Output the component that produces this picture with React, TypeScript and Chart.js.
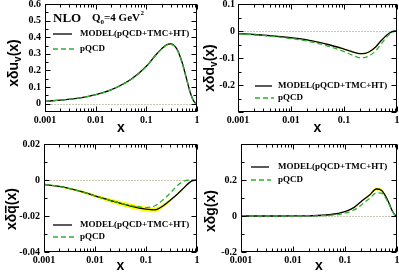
import React, { useEffect, useRef } from "react";
import { Chart, registerables } from "chart.js";
Chart.register(...registerables);

// ---------- data ----------
const xValues = [0.001, 0.002, 0.005, 0.01, 0.02, 0.05, 0.1, 0.15, 0.2, 0.25, 0.3, 0.4, 0.5, 0.6, 0.7, 0.8, 0.9, 0.95, 1];
const xTickLabels = [0.001, 0.01, 0.1, 1];
const legendLabels = ["MODEL(pQCD+TMC+HT)", "pQCD"];

const uvModel = [0.014, 0.021, 0.035, 0.054, 0.083, 0.147, 0.225, 0.29, 0.33, 0.355, 0.36, 0.33, 0.255, 0.168, 0.09, 0.036, 0.008, 0.002, 0];
const uvPqcd = [0.014, 0.021, 0.035, 0.054, 0.083, 0.146, 0.223, 0.287, 0.327, 0.352, 0.357, 0.328, 0.254, 0.167, 0.09, 0.036, 0.008, 0.002, 0];
const uvErr = [0.001, 0.001, 0.001, 0.0012, 0.0015, 0.002, 0.003, 0.0035, 0.004, 0.0045, 0.0045, 0.004, 0.0035, 0.003, 0.002, 0.0015, 0.001, 0.0005, 0];

const dvModel = [-0.01, -0.013, -0.019, -0.025, -0.033, -0.05, -0.067, -0.078, -0.084, -0.083, -0.077, -0.058, -0.036, -0.02, -0.009, -0.003, 0, 0, 0];
const dvPqcd = [-0.011, -0.014, -0.021, -0.028, -0.037, -0.056, -0.076, -0.091, -0.099, -0.098, -0.092, -0.072, -0.049, -0.029, -0.014, -0.005, -0.001, 0, 0];
const dvErr = [0.001, 0.001, 0.001, 0.001, 0.0012, 0.0015, 0.002, 0.002, 0.002, 0.002, 0.002, 0.002, 0.0015, 0.001, 0.001, 0.0005, 0, 0, 0];

const qbModel = [-0.0025, -0.0036, -0.0062, -0.0088, -0.0114, -0.0145, -0.0162, -0.0166, -0.015, -0.013, -0.0112, -0.0082, -0.0056, -0.0033, -0.0016, -0.0005, -0.0001, 0, 0];
const qbPqcd = [-0.0025, -0.0036, -0.0062, -0.0088, -0.0113, -0.0142, -0.0153, -0.0143, -0.0118, -0.0094, -0.0072, -0.0035, -0.0013, -0.0003, 0, 0, 0, 0, 0];
const qbErr = [0.0003, 0.0004, 0.0006, 0.0008, 0.0011, 0.0014, 0.0014, 0.0013, 0.0011, 0.0009, 0.0008, 0.0006, 0.0004, 0.0003, 0.0002, 0.0001, 0, 0, 0];

const gModel = [0, 0, 0, 0.0002, 0.001, 0.007, 0.024, 0.048, 0.078, 0.1, 0.118, 0.15, 0.143, 0.112, 0.072, 0.032, 0.008, 0.002, 0];
const gPqcd = [0, 0, 0, 0, 0.0005, 0.004, 0.016, 0.034, 0.058, 0.08, 0.099, 0.128, 0.127, 0.102, 0.066, 0.03, 0.007, 0.001, 0];
const gErr = [0, 0, 0, 0, 0, 0.001, 0.002, 0.003, 0.004, 0.005, 0.006, 0.008, 0.008, 0.007, 0.005, 0.003, 0.001, 0, 0];

const uvYTicks = [0, 0.1, 0.2, 0.3, 0.4, 0.5, 0.6];
const uvYMinor = [0.05, 0.15, 0.25, 0.35, 0.45, 0.55];
const dvYTicks = [-0.3, -0.2, -0.1, 0, 0.1];
const dvYMinor = [-0.25, -0.15, -0.05, 0.05];
const qbYTicks = [-0.04, -0.02, 0, 0.02];
const qbYMinor = [-0.03, -0.01, 0.01];
const gYTicks = [-0.2, 0, 0.2, 0.4];
const gYMinor = [-0.1, 0.1, 0.3];

// ---------- styles / layout ----------
const GREEN = "#2fb02f";
const YELLOW = "#ffff00";
const SERIF = "'Liberation Serif', 'Times New Roman', serif";
const SANS = "'Liberation Sans', Arial, sans-serif";

type Panel = {
  left: number; top: number; w: number; h: number;
  yAxisW: number; xAxisH: number; padTop: number; padRight: number;
  yMin: number; yMax: number; yTicks: number[]; yMinor: number[]; hideY: number[];
  model: number[]; pqcd: number[]; err: number[];
  title: { base: string; sub?: string; bar?: boolean; cx: number; cy: number };
  legend: { x1: number; x2: number; tx: number; y1: number; y2: number };
  tickPad: number;
  note?: boolean;
};

const PANELS: Panel[] = [
  {
    left: 0, top: 0, w: 200, h: 138, yAxisW: 45, xAxisH: 26, padTop: 4, padRight: 3,
    yMin: -0.05, yMax: 0.6, yTicks: uvYTicks, yMinor: uvYMinor, hideY: [],
    model: uvModel, pqcd: uvPqcd, err: uvErr,
    title: { base: "u", sub: "v", cx: 14, cy: 63 },
    legend: { x1: 53, x2: 72, tx: 80, y1: 34, y2: 49 },
    tickPad: 4,
    note: true,
  },
  {
    left: 200, top: 0, w: 199, h: 138, yAxisW: 38, xAxisH: 26, padTop: 4, padRight: 2,
    yMin: -0.3, yMax: 0.1, yTicks: dvYTicks, yMinor: dvYMinor, hideY: [-0.3],
    model: dvModel, pqcd: dvPqcd, err: dvErr,
    title: { base: "d", sub: "v", cx: 10, cy: 68 },
    legend: { x1: 55, x2: 72, tx: 78, y1: 86, y2: 98 },
    tickPad: 3,
  },
  {
    left: 0, top: 138, w: 200, h: 138, yAxisW: 44, xAxisH: 24, padTop: 6, padRight: 3,
    yMin: -0.04, yMax: 0.02, yTicks: qbYTicks, yMinor: qbYMinor, hideY: [],
    model: qbModel, pqcd: qbPqcd, err: qbErr,
    title: { base: "q", bar: true, cx: 12, cy: 71 },
    legend: { x1: 53, x2: 72, tx: 80, y1: 87, y2: 99 },
    tickPad: 4,
  },
  {
    left: 200, top: 138, w: 199, h: 138, yAxisW: 41, xAxisH: 24, padTop: 6, padRight: 2,
    yMin: -0.2, yMax: 0.4, yTicks: gYTicks, yMinor: gYMinor, hideY: [0.4],
    model: gModel, pqcd: gPqcd, err: gErr,
    title: { base: "g", cx: 11, cy: 73 },
    legend: { x1: 51, x2: 69, tx: 78, y1: 29, y2: 42 },
    tickPad: 4,
  },
];

// ---------- decoration plugin ----------
const decorPlugin = {
  id: "decor",
  beforeDatasetsDraw(chart: any) {
    const { ctx, chartArea: a, scales } = chart;
    const y0 = Math.round(scales.y.getPixelForValue(0)) + 0.5;
    ctx.save();
    ctx.strokeStyle = "#c9c9b5";
    ctx.lineWidth = 1;
    ctx.setLineDash([2, 1]);
    ctx.beginPath();
    ctx.moveTo(a.left, y0);
    ctx.lineTo(a.right, y0);
    ctx.stroke();
    ctx.restore();
  },
  afterDraw(chart: any, _args: any, opts: any) {
    const p: Panel = opts.panel;
    const { ctx, chartArea: a, scales } = chart;
    const L = Math.round(a.left) + 0.5, R = Math.round(a.right) - 0.5;
    const T = Math.round(a.top) + 0.5, B = Math.round(a.bottom) - 0.5;
    ctx.save();
    ctx.strokeStyle = "#000";
    ctx.lineWidth = 1;
    ctx.setLineDash([]);
    ctx.strokeRect(L, T, R - L, B - T);
    // x ticks
    const xs: [number, number][] = [];
    for (const v of xTickLabels) xs.push([v, 5]);
    for (let d = -3; d < 0; d++) for (let k = 2; k <= 9; k++) xs.push([k * Math.pow(10, d), 3]);
    ctx.beginPath();
    for (const [v, len] of xs) {
      const px = Math.round(scales.x.getPixelForValue(v)) + 0.5;
      ctx.moveTo(px, B); ctx.lineTo(px, B - len);
      ctx.moveTo(px, T); ctx.lineTo(px, T + len);
    }
    const ys: [number, number][] = [];
    for (const v of p.yTicks) ys.push([v, 5]);
    for (const v of p.yMinor) ys.push([v, 3]);
    for (const [v, len] of ys) {
      const py = Math.round(scales.y.getPixelForValue(v)) + 0.5;
      ctx.moveTo(L, py); ctx.lineTo(L + len, py);
      ctx.moveTo(R, py); ctx.lineTo(R - len, py);
    }
    ctx.stroke();

    // y tick labels (positioned by the library's y scale)
    ctx.fillStyle = "#000";
    ctx.font = `bold 10px ${SERIF}`;
    ctx.textAlign = "right";
    ctx.textBaseline = "middle";
    for (const v of p.yTicks) {
      if (p.hideY.includes(v)) continue;
      ctx.fillText(String(v), a.left - p.tickPad, scales.y.getPixelForValue(v));
    }

    // legend
    const lg = p.legend;
    ctx.lineWidth = 1.3;
    ctx.strokeStyle = "#000";
    ctx.beginPath(); ctx.moveTo(lg.x1, lg.y1); ctx.lineTo(lg.x2, lg.y1); ctx.stroke();
    ctx.strokeStyle = GREEN;
    ctx.setLineDash([5, 3]);
    ctx.beginPath(); ctx.moveTo(lg.x1, lg.y2); ctx.lineTo(lg.x2 + 2, lg.y2); ctx.stroke();
    ctx.setLineDash([]);
    ctx.font = `bold 9px ${SERIF}`;
    ctx.textBaseline = "middle";
    ctx.textAlign = "left";
    ctx.fillText(legendLabels[0], lg.tx, lg.y1);
    ctx.fillText(legendLabels[1], lg.tx, lg.y2);

    // note
    if (p.note) {
      ctx.textBaseline = "alphabetic";
      ctx.font = `bold 13px ${SERIF}`;
      ctx.fillText("NLO", 53, 22);
      let x = 92;
      ctx.font = `bold 11px ${SERIF}`;
      ctx.fillText("Q", x, 21); x += ctx.measureText("Q").width;
      ctx.font = `bold 7px ${SERIF}`;
      ctx.fillText("0", x, 24); x += ctx.measureText("0").width;
      ctx.font = `bold 11px ${SERIF}`;
      ctx.fillText("=4 GeV", x, 21); x += ctx.measureText("=4 GeV").width;
      ctx.font = `bold 7px ${SERIF}`;
      ctx.fillText("2", x + 0.5, 15);
    }

    // y title (rotated)
    const t = p.title;
    const big = `bold 14px ${SANS}`;
    const small = `bold 10px ${SANS}`;
    ctx.save();
    ctx.translate(t.cx, t.cy);
    ctx.rotate(-Math.PI / 2);
    ctx.textBaseline = "middle";
    ctx.textAlign = "left";
    ctx.font = big;
    const w1 = ctx.measureText("x\u03b4" + t.base).width;
    ctx.font = small;
    const ws = t.sub ? ctx.measureText(t.sub).width : 0;
    ctx.font = big;
    const w3 = ctx.measureText("(x)").width;
    let cx = -(w1 + ws + w3) / 2;
    ctx.fillText("x\u03b4" + t.base, cx, 0);
    if (t.bar) {
      const wq = ctx.measureText(t.base).width;
      const qx = cx + w1 - wq;
      ctx.fillRect(qx + 0.5, -7, wq - 1, 1.5);
    }
    cx += w1;
    if (t.sub) {
      ctx.font = small;
      ctx.fillText(t.sub, cx, 4);
      cx += ws;
    }
    ctx.font = big;
    ctx.fillText("(x)", cx, 0);
    ctx.restore();

    ctx.restore();
  },
};

function makeConfig(p: Panel): any {
  const pts = (arr: number[]) => xValues.map((x, i) => ({ x, y: arr[i] }));
  const upper = p.model.map((v, i) => v + p.err[i]);
  const lower = p.model.map((v, i) => v - p.err[i]);
  const common = { pointRadius: 0, cubicInterpolationMode: "monotone" as const };
  return {
    type: "line",
    data: {
      datasets: [
        { ...common, label: legendLabels[1], data: pts(p.pqcd), borderColor: GREEN, borderWidth: 1.3, borderDash: [5, 3], fill: false },
        { ...common, label: legendLabels[0], data: pts(p.model), borderColor: "#000", borderWidth: 1.3, fill: false },
        { ...common, label: "band+", data: pts(upper), borderColor: "rgba(0,0,0,0)", borderWidth: 0, backgroundColor: YELLOW, fill: "+1" },
        { ...common, label: "band-", data: pts(lower), borderColor: "rgba(0,0,0,0)", borderWidth: 0, fill: false },
      ],
    },
    options: {
      animation: false,
      responsive: false,
      devicePixelRatio: 1,
      events: [],
      layout: { padding: { top: p.padTop, right: p.padRight, left: 0, bottom: 0 } },
      plugins: {
        legend: { display: false },
        tooltip: { enabled: false },
        decor: { panel: p },
      },
      scales: {
        x: {
          type: "logarithmic",
          min: 0.001,
          max: 1,
          grid: { display: false, drawTicks: false },
          border: { display: false },
          afterBuildTicks: (s: any) => { s.ticks = xTickLabels.map((v) => ({ value: v })); },
          afterFit: (s: any) => { s.height = p.xAxisH; s.paddingLeft = 0; s.paddingRight = 0; },
          ticks: {
            callback: (v: any) => String(v),
            font: { family: SERIF, size: 10, weight: "bold" },
            color: "#000",
            padding: 2,
            maxRotation: 0,
            autoSkip: false,
          },
          title: {
            display: true,
            text: "x",
            color: "#000",
            font: { family: SANS, size: 14, weight: "bold" },
            padding: { top: 0, bottom: 1 },
          },
        },
        y: {
          type: "linear",
          min: p.yMin,
          max: p.yMax,
          grid: { display: false, drawTicks: false },
          border: { display: false },
          afterBuildTicks: (s: any) => { s.ticks = p.yTicks.map((v) => ({ value: v })); },
          afterFit: (s: any) => { s.width = p.yAxisW; s.paddingTop = 0; s.paddingBottom = 0; },
          ticks: { display: false },
          title: { display: false },
        },
      },
    },
    plugins: [decorPlugin],
  };
}

export default function App() {
  const r0 = useRef<HTMLCanvasElement>(null);
  const r1 = useRef<HTMLCanvasElement>(null);
  const r2 = useRef<HTMLCanvasElement>(null);
  const r3 = useRef<HTMLCanvasElement>(null);
  const refs = [r0, r1, r2, r3];
  useEffect(() => {
    const charts = PANELS.map((p, i) => new Chart(refs[i].current as HTMLCanvasElement, makeConfig(p)));
    return () => charts.forEach((c) => c.destroy());
  }, []);
  return (
    <div style={{ position: "absolute", left: 0, top: 0, width: 399, height: 276, background: "#fff" }}>
      {PANELS.map((p, i) => (
        <canvas
          key={i}
          ref={refs[i]}
          width={p.w}
          height={p.h}
          style={{ position: "absolute", left: p.left, top: p.top, width: p.w, height: p.h }}
        />
      ))}
    </div>
  );
}
